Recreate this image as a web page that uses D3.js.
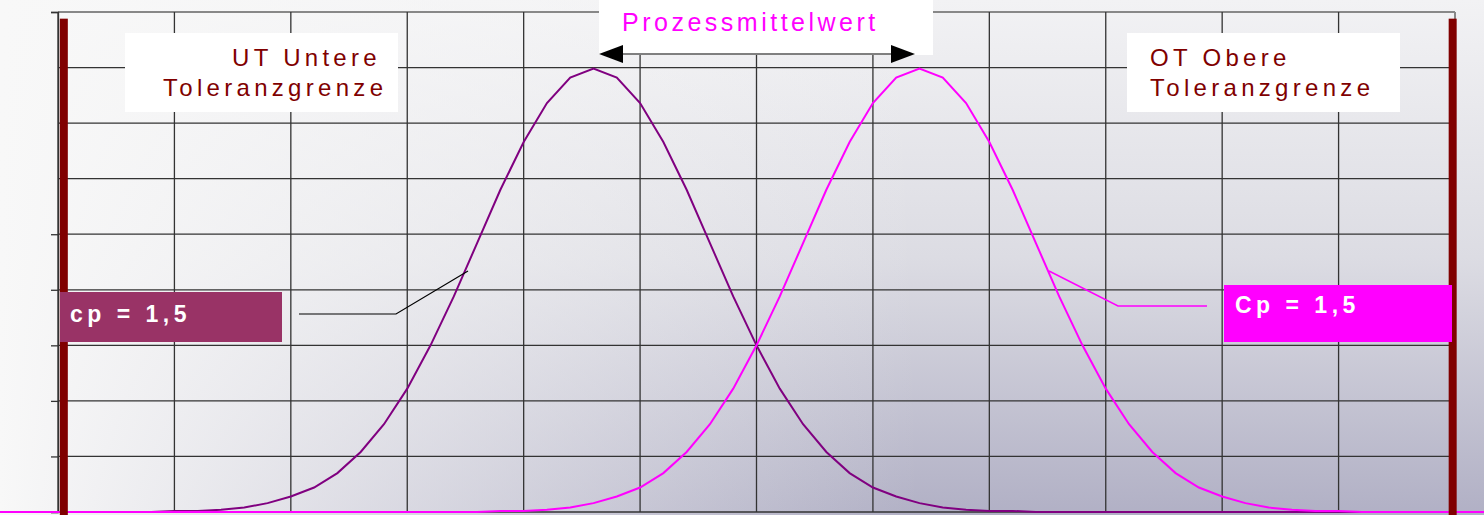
<!DOCTYPE html>
<html>
<head>
<meta charset="utf-8">
<script src="https://cdn.jsdelivr.net/npm/d3@7"></script>
<style>
  body { margin: 0; padding: 0; background: #f8f8f8; }
  svg { display: block; font-family: "Liberation Sans", Arial, sans-serif; }
</style>
</head>
<body>
<div id="chart"></div>
<script>
// grid ticks
const xTicks = [0, 1, 2, 3, 4, 5, 6, 7, 8, 9, 10, 11, 12];
const yTicks = [0, 0.05, 0.1, 0.15, 0.2, 0.25, 0.3, 0.35, 0.4, 0.45];
const yTickMarks = [0, 0.05, 0.1, 0.15, 0.2, 0.25, 0.45];

// shape of both curves (offset from mean in sigma, density)
const offsets = [-8, -4, -3.8, -3.6, -3.4, -3.2, -3, -2.8, -2.6, -2.4, -2.2, -2, -1.8, -1.6, -1.4, -1.2, -1, -0.8, -0.6, -0.4, -0.2,
  0, 0.2, 0.4, 0.6, 0.8, 1, 1.2, 1.4, 1.6, 1.8, 2, 2.2, 2.4, 2.6, 2.8, 3, 3.2, 3.4, 3.6, 3.8, 4, 8];
const density = [0, 0, 0.000, 0.001, 0.001, 0.002, 0.004, 0.008, 0.014, 0.022, 0.035, 0.054, 0.079, 0.111, 0.150, 0.194, 0.242, 0.290, 0.333, 0.368, 0.391,
  0.399, 0.391, 0.368, 0.333, 0.290, 0.242, 0.194, 0.150, 0.111, 0.079, 0.054, 0.035, 0.022, 0.014, 0.008, 0.004, 0.002, 0.001, 0.001, 0.000, 0, 0];

const means = [4.6, 7.4];
const curveColors = ["#800080", "#ff00ff"];

// tolerance limits
const limits = [0.05, 11.98];
const limitTop = 0.444;

const W = 1484, H = 515;
const x = d3.scaleLinear().domain([0, 12]).range([58, 1455]);
const y = d3.scaleLinear().domain([0, 0.45]).range([512, 12]);

const svg = d3.select("#chart").append("svg")
  .attr("width", W)
  .attr("height", H);

const defs = svg.append("defs");
const vg = defs.append("linearGradient").attr("id", "vg")
  .attr("x1", 0).attr("y1", 0).attr("x2", 0).attr("y2", 1);
vg.append("stop").attr("offset", 0).attr("stop-color", "#f2f2f4");
vg.append("stop").attr("offset", 0.5).attr("stop-color", "#dcdce3");
vg.append("stop").attr("offset", 1).attr("stop-color", "#b1b0c5");

const hg = defs.append("linearGradient").attr("id", "hg")
  .attr("x1", 0).attr("y1", 0).attr("x2", 1).attr("y2", 0);
hg.append("stop").attr("offset", 0).attr("stop-color", "#f8f8f8").attr("stop-opacity", 1);
hg.append("stop").attr("offset", 0.62).attr("stop-color", "#f8f8f8").attr("stop-opacity", 0);

svg.append("rect").attr("width", W).attr("height", H).attr("fill", "url(#vg)");
svg.append("rect").attr("width", W).attr("height", H).attr("fill", "url(#hg)");

// gridlines
const grid = svg.append("g");
grid.selectAll(".hl")
  .data(yTicks)
  .enter().append("line")
  .attr("x1", x(0)).attr("x2", x(12))
  .attr("y1", d => y(d)).attr("y2", d => y(d))
  .attr("stroke", d => d === 0.45 ? "#888" : "#333")
  .attr("stroke-width", d => d === 0.45 ? 2 : 1.3);

grid.selectAll(".vl")
  .data(xTicks)
  .enter().append("line")
  .attr("x1", d => x(d)).attr("x2", d => x(d))
  .attr("y1", y(0.45)).attr("y2", y(0))
  .attr("stroke", d => d === 12 ? "#888" : "#333")
  .attr("stroke-width", d => d === 12 ? 2 : 1.3);

// small ticks on the left
const yAxis = d3.axisLeft(y).tickValues(yTickMarks).tickSize(7).tickFormat("");
svg.append("g")
  .attr("transform", `translate(${x(0)},0)`)
  .call(yAxis)
  .call(g => g.select(".domain").attr("stroke", "#333").attr("stroke-width", 1.3))
  .call(g => g.selectAll(".tick line").attr("stroke", "#333").attr("stroke-width", 1.3));

// curves
const line = d3.line()
  .x(d => x(d[0]))
  .y(d => y(d[1]));

means.forEach((m, i) => {
  const pts = offsets.map((o, j) => [m + o, density[j]]);
  svg.append("path")
    .datum(pts)
    .attr("d", line)
    .attr("fill", "none")
    .attr("stroke", curveColors[i])
    .attr("stroke-width", 2);
});

// tolerance bars
svg.selectAll(".lim")
  .data(limits)
  .enter().append("rect")
  .attr("x", d => x(d) - 4)
  .attr("y", y(limitTop))
  .attr("width", 8)
  .attr("height", H - y(limitTop))
  .attr("fill", "#800000");

// Prozessmittelwert label
svg.append("rect").attr("x", 599).attr("y", 0).attr("width", 334).attr("height", 55).attr("fill", "#fff");
svg.append("text")
  .attr("x", 622).attr("y", 31)
  .attr("font-size", 25)
  .attr("letter-spacing", 3.5)
  .attr("fill", "#ff00ff")
  .text("Prozessmittelwert");
svg.append("line")
  .attr("x1", x(means[0]) + 25).attr("x2", x(means[1]) - 25)
  .attr("y1", 54).attr("y2", 54)
  .attr("stroke", "#000").attr("stroke-width", 1);
svg.append("path")
  .attr("d", `M${599},54 L${623},45 L${623},63 Z`)
  .attr("fill", "#000");
svg.append("path")
  .attr("d", `M${915},54 L${891},45 L${891},63 Z`)
  .attr("fill", "#000");

// UT label
svg.append("rect").attr("x", 125).attr("y", 33).attr("width", 273).attr("height", 79).attr("fill", "#fff");
const ut = svg.append("text")
  .attr("font-size", 24)
  .attr("letter-spacing", 4.3)
  .attr("fill", "#800000");
ut.append("tspan").attr("x", 232).attr("y", 66).text("UT Untere");
ut.append("tspan").attr("x", 163).attr("y", 96).text("Toleranzgrenze");

// OT label
svg.append("rect").attr("x", 1127).attr("y", 33).attr("width", 273).attr("height", 79).attr("fill", "#fff");
const ot = svg.append("text")
  .attr("font-size", 24)
  .attr("letter-spacing", 4.3)
  .attr("fill", "#800000");
ot.append("tspan").attr("x", 1150).attr("y", 66).text("OT Obere");
ot.append("tspan").attr("x", 1150).attr("y", 96).text("Toleranzgrenze");

// cp box (left)
svg.append("rect").attr("x", 60).attr("y", 292).attr("width", 222).attr("height", 50).attr("fill", "#993366");
svg.append("text")
  .attr("x", 70).attr("y", 322)
  .attr("font-size", 23).attr("font-weight", "bold")
  .attr("letter-spacing", 4.5)
  .attr("fill", "#fff")
  .text("cp = 1,5");
svg.append("path")
  .attr("d", "M299,314 L396,314 L468,271")
  .attr("fill", "none").attr("stroke", "#000").attr("stroke-width", 1.2);

// Cp box (right)
svg.append("rect").attr("x", 1224).attr("y", 285).attr("width", 228).attr("height", 57).attr("fill", "#ff00ff");
svg.append("text")
  .attr("x", 1235).attr("y", 313)
  .attr("font-size", 23).attr("font-weight", "bold")
  .attr("letter-spacing", 4.5)
  .attr("fill", "#fff")
  .text("Cp = 1,5");
svg.append("path")
  .attr("d", "M1207,306 L1118,306 L1049,271")
  .attr("fill", "none").attr("stroke", "#ff00ff").attr("stroke-width", 1.5);
</script>
</body>
</html>
